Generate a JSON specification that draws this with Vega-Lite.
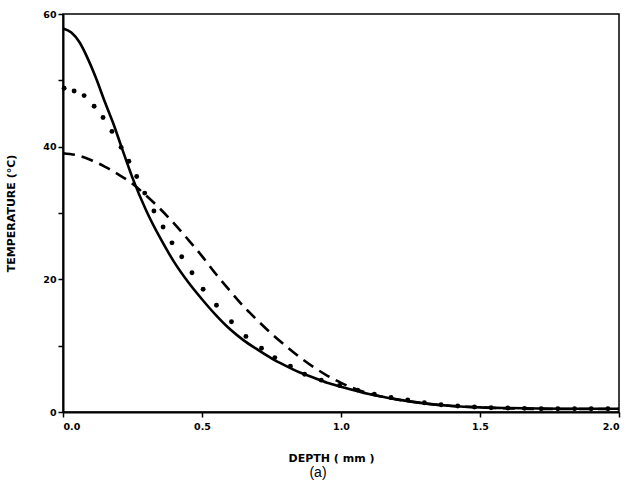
{
  "$schema": "https://vega.github.io/schema/vega-lite/v6.json",
  "width": 556,
  "height": 398,
  "autosize": "none",
  "padding": {"left": 63, "top": 14, "right": 9, "bottom": 69},
  "background": "white",
  "config": {
    "view": {"stroke": "black", "strokeWidth": 1.5},
    "axis": {
      "grid": false,
      "domainColor": "black",
      "domainWidth": 2,
      "tickColor": "black",
      "tickWidth": 1.5,
      "tickSize": 5,
      "labelFont": "DejaVu Sans",
      "labelFontWeight": "bold",
      "labelFontSize": 9.5,
      "labelColor": "black",
      "titleFont": "DejaVu Sans",
      "titleFontWeight": "bold",
      "titleFontSize": 11,
      "titleColor": "black"
    }
  },
  "title": {
    "text": "(a)",
    "orient": "bottom",
    "font": "Liberation Sans",
    "fontSize": 14,
    "fontWeight": "normal",
    "color": "black",
    "offset": 2,
    "dx": -23
  },
  "datasets": {
    "solid": [
      {"depth": 0.00, "temp": 57.8}, {"depth": 0.03, "temp": 57.2}, {"depth": 0.06, "temp": 55.7},
      {"depth": 0.09, "temp": 53.2}, {"depth": 0.12, "temp": 50.2}, {"depth": 0.15, "temp": 46.8},
      {"depth": 0.18, "temp": 43.6}, {"depth": 0.21, "temp": 40.0}, {"depth": 0.25, "temp": 35.3},
      {"depth": 0.30, "temp": 30.3}, {"depth": 0.35, "temp": 26.2}, {"depth": 0.40, "temp": 22.6},
      {"depth": 0.45, "temp": 19.6}, {"depth": 0.50, "temp": 17.0}, {"depth": 0.55, "temp": 14.6},
      {"depth": 0.60, "temp": 12.5}, {"depth": 0.65, "temp": 10.8}, {"depth": 0.70, "temp": 9.4},
      {"depth": 0.75, "temp": 8.1}, {"depth": 0.80, "temp": 7.0}, {"depth": 0.85, "temp": 6.0},
      {"depth": 0.90, "temp": 5.2}, {"depth": 0.95, "temp": 4.4}, {"depth": 1.00, "temp": 3.8},
      {"depth": 1.10, "temp": 2.7}, {"depth": 1.20, "temp": 1.9}, {"depth": 1.30, "temp": 1.3},
      {"depth": 1.40, "temp": 0.9}, {"depth": 1.50, "temp": 0.7}, {"depth": 1.60, "temp": 0.6},
      {"depth": 1.80, "temp": 0.5}, {"depth": 2.00, "temp": 0.5}
    ],
    "dashed": [
      {"depth": 0.00, "temp": 39.0}, {"depth": 0.05, "temp": 38.7}, {"depth": 0.10, "temp": 38.0},
      {"depth": 0.15, "temp": 37.0}, {"depth": 0.20, "temp": 35.8}, {"depth": 0.25, "temp": 34.4},
      {"depth": 0.30, "temp": 32.6}, {"depth": 0.35, "temp": 30.6}, {"depth": 0.40, "temp": 28.4},
      {"depth": 0.45, "temp": 26.0}, {"depth": 0.50, "temp": 23.5}, {"depth": 0.55, "temp": 20.8},
      {"depth": 0.60, "temp": 18.3}, {"depth": 0.65, "temp": 15.9}, {"depth": 0.70, "temp": 13.8},
      {"depth": 0.75, "temp": 11.8}, {"depth": 0.80, "temp": 10.0}, {"depth": 0.85, "temp": 8.3},
      {"depth": 0.90, "temp": 6.8}, {"depth": 0.95, "temp": 5.5}, {"depth": 1.00, "temp": 4.4},
      {"depth": 1.05, "temp": 3.5}, {"depth": 1.10, "temp": 2.8}, {"depth": 1.20, "temp": 1.9},
      {"depth": 1.30, "temp": 1.3}, {"depth": 1.40, "temp": 0.9}, {"depth": 1.50, "temp": 0.7},
      {"depth": 1.60, "temp": 0.55}, {"depth": 1.80, "temp": 0.45}, {"depth": 2.00, "temp": 0.45}
    ],
    "dotted": [
      {"depth": 0.004, "temp": 48.8}, {"depth": 0.040, "temp": 48.4}, {"depth": 0.076, "temp": 47.7},
      {"depth": 0.112, "temp": 46.1}, {"depth": 0.144, "temp": 44.4}, {"depth": 0.176, "temp": 42.3},
      {"depth": 0.209, "temp": 39.9}, {"depth": 0.237, "temp": 37.8}, {"depth": 0.265, "temp": 35.5},
      {"depth": 0.294, "temp": 33.0}, {"depth": 0.327, "temp": 30.3}, {"depth": 0.360, "temp": 27.9},
      {"depth": 0.392, "temp": 25.5}, {"depth": 0.427, "temp": 23.4}, {"depth": 0.464, "temp": 21.0},
      {"depth": 0.504, "temp": 18.5}, {"depth": 0.552, "temp": 16.1}, {"depth": 0.606, "temp": 13.6},
      {"depth": 0.658, "temp": 11.4}, {"depth": 0.714, "temp": 9.6}, {"depth": 0.762, "temp": 8.2},
      {"depth": 0.818, "temp": 6.9}, {"depth": 0.869, "temp": 5.7}, {"depth": 0.929, "temp": 4.8},
      {"depth": 0.995, "temp": 4.0}, {"depth": 1.06, "temp": 3.3}, {"depth": 1.12, "temp": 2.7},
      {"depth": 1.18, "temp": 2.2}, {"depth": 1.24, "temp": 1.8}, {"depth": 1.30, "temp": 1.4},
      {"depth": 1.36, "temp": 1.1}, {"depth": 1.42, "temp": 0.9}, {"depth": 1.48, "temp": 0.75},
      {"depth": 1.54, "temp": 0.65}, {"depth": 1.60, "temp": 0.6}, {"depth": 1.66, "temp": 0.55},
      {"depth": 1.72, "temp": 0.5}, {"depth": 1.78, "temp": 0.5}, {"depth": 1.84, "temp": 0.5},
      {"depth": 1.90, "temp": 0.5}, {"depth": 1.96, "temp": 0.5}
    ]
  },
  "encoding": {
    "x": {
      "field": "depth", "type": "quantitative",
      "scale": {"domain": [0, 2], "nice": false, "zero": false},
      "axis": {"values": [0, 0.5, 1, 1.5, 2], "format": ".1f", "title": "DEPTH ( mm )", "titlePadding": 22, "titleX": 268, "labelPadding": 4}
    },
    "y": {
      "field": "temp", "type": "quantitative",
      "scale": {"domain": [0, 60], "nice": false, "zero": true},
      "axis": {"values": [0, 10, 20, 30, 40, 50, 60], "labelExpr": "datum.value % 20 == 0 ? datum.label : ''", "title": "TEMPERATURE (°C)", "titlePadding": 26, "labelPadding": 2}
    }
  },
  "layer": [
    {"data": {"name": "solid"}, "mark": {"type": "line", "color": "black", "strokeWidth": 2.6, "interpolate": "monotone"}},
    {"data": {"name": "dashed"}, "mark": {"type": "line", "color": "black", "strokeWidth": 2.6, "strokeDash": [12, 7], "interpolate": "monotone"}},
    {"data": {"name": "dotted"}, "mark": {"type": "point", "filled": true, "color": "black", "opacity": 1, "size": 24}}
  ]
}
